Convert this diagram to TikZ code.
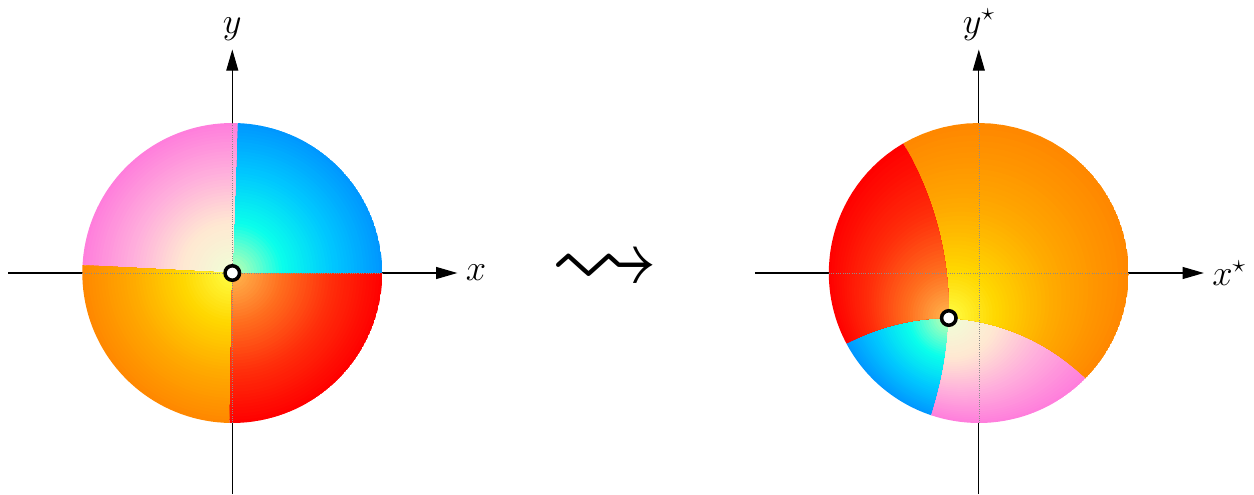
\documentclass[tikz,border=0pt]{standalone}
\usepackage{amssymb}
\usetikzlibrary{arrows.meta}

% colour stops of the four quadrants, at t = 0, 1/3, 2/3, 1
\definecolor{bl0}{RGB}{200,255,175}
\definecolor{bl1}{RGB}{10,255,235}
\definecolor{bl2}{RGB}{0,200,255}
\definecolor{bl3}{RGB}{0,150,255}
\definecolor{pk0}{RGB}{240,255,215}
\definecolor{pk1}{RGB}{255,232,210}
\definecolor{pk2}{RGB}{255,175,220}
\definecolor{pk3}{RGB}{255,125,220}
\definecolor{or0}{RGB}{255,255,70}
\definecolor{or1}{RGB}{255,215,0}
\definecolor{or2}{RGB}{255,170,0}
\definecolor{or3}{RGB}{255,135,0}
\definecolor{rd0}{RGB}{255,185,80}
\definecolor{rd1}{RGB}{255,110,30}
\definecolor{rd2}{RGB}{255,45,10}
\definecolor{rd3}{RGB}{255,0,0}

\tikzset{
  axis/.style={line width=0.6pt, -{Triangle[length=12pt,width=6.8pt]}},
  axlabel/.style={inner sep=4.6pt, font=\huge},
  inaxis/.style={black!45, densely dotted, line width=0.3pt},
  marker/.style={circle, draw, fill=white, line width=2pt, minimum size=0.29cm, inner sep=0pt},
  % w = (p + s z)/(1 + s conj(p) z)
  declare function={
    mdre(\x,\y)=1+(\ms)*((\pa)*\x+(\pb)*\y);
    mdim(\x,\y)=(\ms)*((\pa)*\y-(\pb)*\x);
    mwx(\x,\y)=(((\pa)+(\ms)*\x)*mdre(\x,\y)+((\pb)+(\ms)*\y)*mdim(\x,\y))/(mdre(\x,\y)^2+mdim(\x,\y)^2);
    mwy(\x,\y)=(((\pb)+(\ms)*\y)*mdre(\x,\y)-((\pa)+(\ms)*\x)*mdim(\x,\y))/(mdre(\x,\y)^2+mdim(\x,\y)^2);
  }
}

% colour 'band' of quadrant #1 at radius t=#2
\newcommand\bandcol[2]{%
  \pgfmathtruncatemacro\bk{min(3*#2,2.999)}%
  \pgfmathtruncatemacro\bkn{\bk+1}%
  \pgfmathtruncatemacro\bpc{round(100*(\bk+1-3*#2))}%
  \colorlet{band}{#1\bk!\bpc!#1\bkn}%
}

% unit disk, coloured by quadrant and radius, seen through the map
\newcommand\colourdisk[3]{%
  \def\pa{#1}\def\pb{#2}\def\ms{#3}%
  \foreach \qc/\ta/\tb in {bl/0/88, pk/88/177, or/177/269, rd/269/360}{
    \begin{scope}
      \clip plot[domain=0:1,samples=16] ({mwx(\x*cos(\ta),\x*sin(\ta))},{mwy(\x*cos(\ta),\x*sin(\ta))})
        -- plot[domain=\ta:\tb,samples=40] ({mwx(cos(\x),sin(\x))},{mwy(cos(\x),sin(\x))})
        -- plot[domain=1:0,samples=16] ({mwx(\x*cos(\tb),\x*sin(\tb))},{mwy(\x*cos(\tb),\x*sin(\tb))}) -- cycle;
      \foreach \i in {48,...,1}{
        \pgfmathsetmacro\tm{(\i-0.5)/48}
        \pgfmathsetmacro\tt{\i/48}
        \bandcol{\qc}{\tm}
        \pgfmathsetmacro\cf{(1-\tt^2)/(1-\tt^2*((\pa)^2+(\pb)^2))}
        \pgfmathsetmacro\rf{\tt*(1-(\pa)^2-(\pb)^2)/(1-\tt^2*((\pa)^2+(\pb)^2))}
        \fill[band] ({\cf*(\pa)},{\cf*(\pb)}) circle (\rf);
      }
    \end{scope}
  }%
}

\begin{document}
\begin{tikzpicture}
  \useasboundingbox (-4.646,-4.44) rectangle (20.434,5.46);
  % Left: axes
  \coordinate (xa) at (-4.48,0);
  \coordinate (xb) at (4.5,0);
  \coordinate (ya) at (0,-4.42);
  \coordinate (yb) at (0,4.47);
  \draw[axis] (xa) -- (xb) node[axlabel,right] (xlab) {$x$};
  \draw[axis] (ya) -- (yb) node[axlabel,above] (ylab) {$y$};
  % Left: disk
  \begin{scope}[scale=3]
    \colourdisk{0}{0}{1}
  \end{scope}
  \draw[inaxis] (-3,0) -- (3,0) (0,-3) -- (0,3);
  \node[marker] (z0) at (0,0) {};

  % Map
  \node[scale=6.2] (leadsto) at (7.45,0.03) {$\rightsquigarrow$};

  % Right: axes
  \begin{scope}[xshift=14.93cm]
    \coordinate (xsa) at (-4.48,0);
    \coordinate (xsb) at (4.5,0);
    \coordinate (ysa) at (0,-4.42);
    \coordinate (ysb) at (0,4.47);
    \draw[axis] (xsa) -- (xsb) node[axlabel,right] (xslab) {$x^\star$};
    \draw[axis] (ysa) -- (ysb) node[axlabel,above] (yslab) {$y^\star$};
    % Right: disk
    \begin{scope}[scale=3]
      \colourdisk{-0.2}{-0.3}{-1}
    \end{scope}
    \draw[inaxis] (-3,0) -- (3,0) (0,-3) -- (0,3);
    \node[marker] (p) at (-0.6,-0.9) {};
  \end{scope}
\end{tikzpicture}
\end{document}
